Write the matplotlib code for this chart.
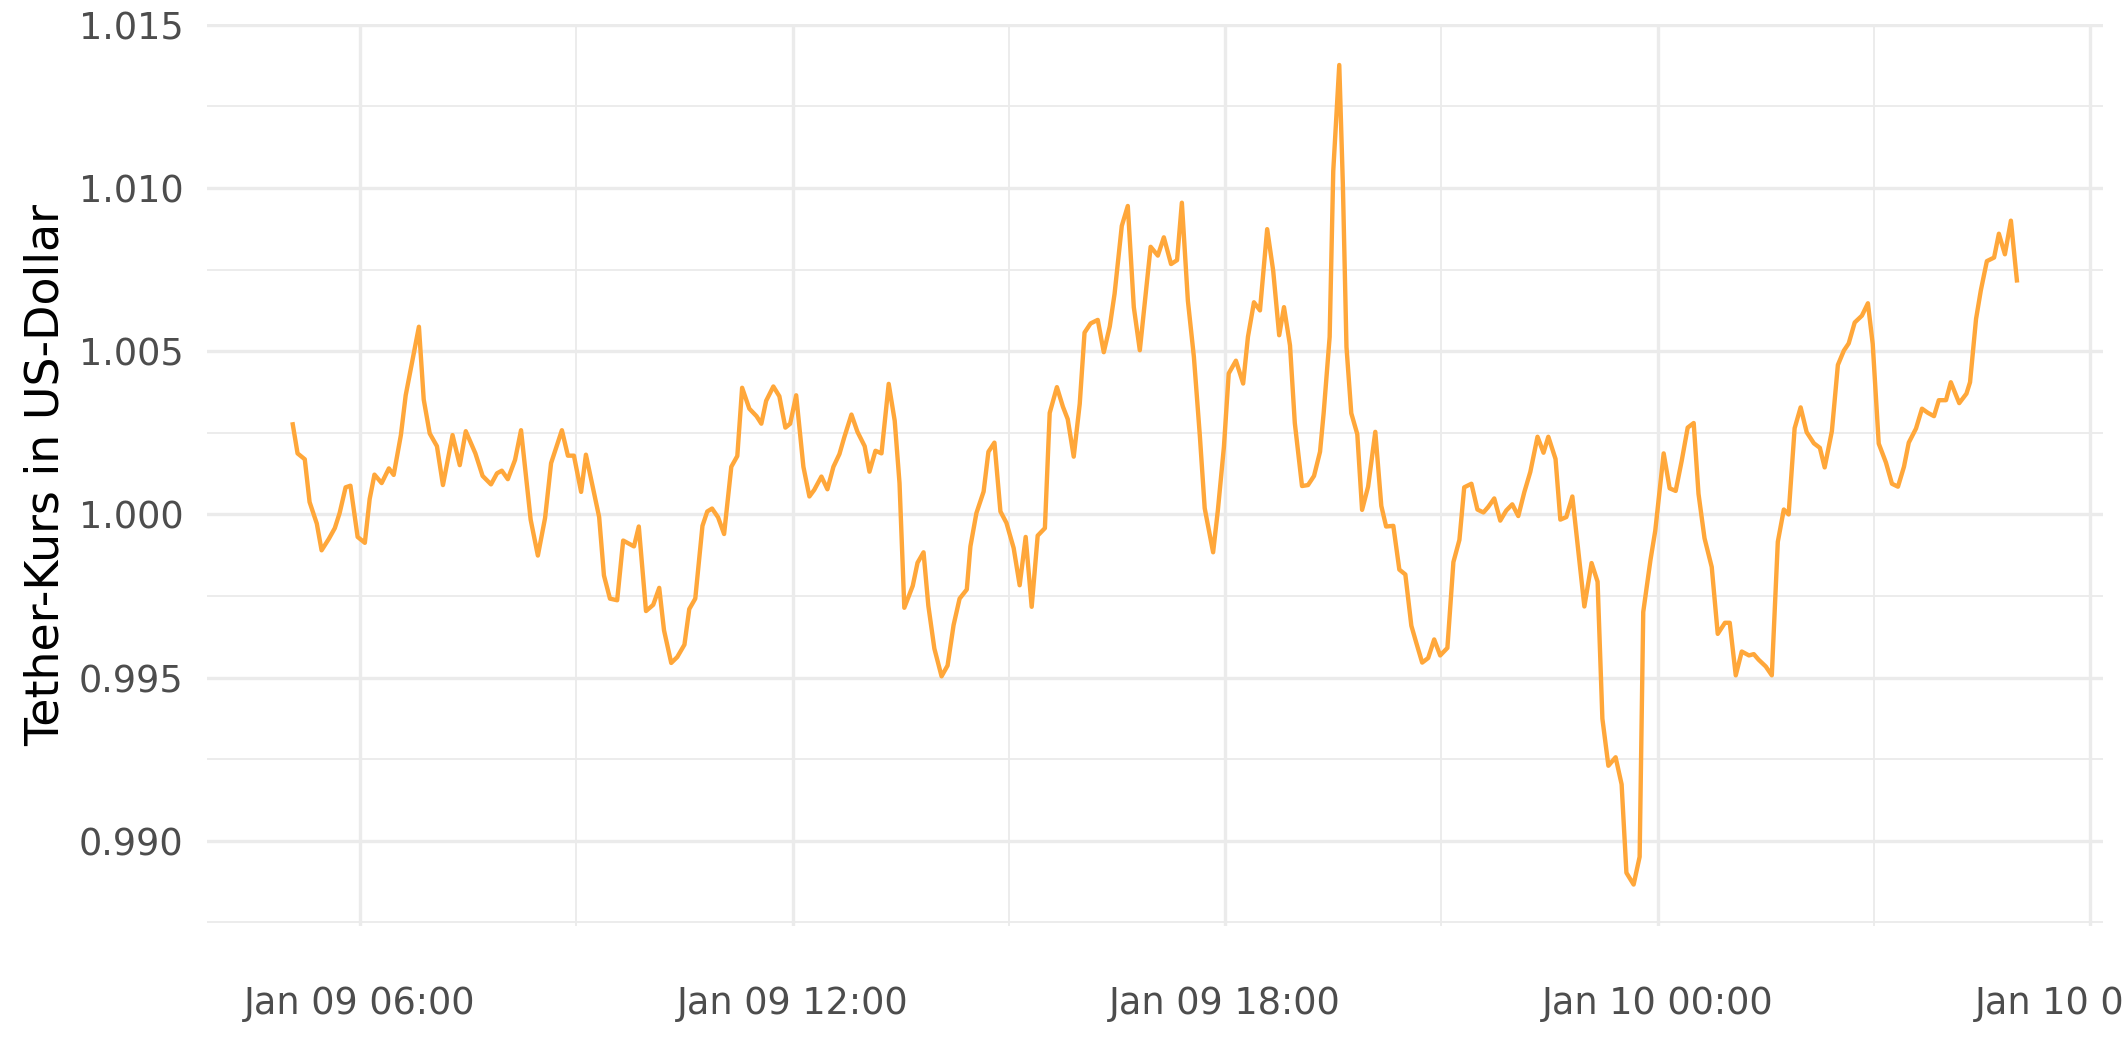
import matplotlib
matplotlib.use('Agg')
import matplotlib.pyplot as plt
import matplotlib.dates as mdates
import numpy as np
import pandas as pd

# minutes after Jan 09 06:00
minutes = [
    -56, -52, -46, -42, -36, -32, -26, -21, -17, -12, -8, -2, 4, 8, 12, 18, 24, 28, 34, 38,
    49, 53, 58, 64, 69, 77, 83, 88, 96, 102, 109, 114, 118, 123, 129, 134, 142, 148, 154, 159, 168,
    173, 178, 184, 188, 199, 203, 208, 214, 219, 228, 232, 238, 244, 249, 253, 259, 264, 270, 274, 279,
    285, 289, 293, 298, 303, 309, 314, 318, 324, 330, 334, 338, 344, 349, 354, 358, 363, 369, 374, 378,
    384, 389, 394, 399, 403, 409, 414, 420, 424, 429, 434, 440, 445, 449, 453, 460, 464, 469, 473, 478,
    484, 489, 494, 499, 505, 508, 513, 519, 523, 528, 533, 538, 544, 549, 554, 559, 564, 570, 574, 580,
    585, 589, 594, 599, 603, 608, 614,
    619, 624, 628, 634, 639, 644, 649, 653, 658, 664, 669, 675, 680, 684, 689, 694, 699, 703, 710, 714,
    719, 723, 729, 735, 739, 744, 749, 755, 760, 765, 769, 774, 778, 784, 789, 794, 799, 802, 807, 810,
    815, 818, 821, 825, 830, 834, 839, 845, 850, 854, 860, 865, 870, 875, 879,
    884, 889, 894, 899, 905, 910, 915, 919, 925, 930, 935, 939, 944, 949, 954, 959, 964, 969, 974, 980,
    985, 989, 995, 999, 1004, 1009, 1014, 1019, 1025, 1030, 1034, 1039, 1045, 1050, 1054, 1060, 1065,
    1068, 1074, 1078, 1085, 1090, 1095, 1100, 1105, 1110, 1114, 1119, 1125, 1130, 1136, 1140, 1145,
    1150, 1156, 1160, 1164, 1170, 1175, 1180, 1185, 1189, 1194, 1199, 1204, 1210, 1215, 1219, 1225, 1230,
    1235, 1239, 1244, 1250, 1255, 1259, 1264, 1270, 1275, 1280, 1285, 1289, 1295, 1300, 1305, 1310,
    1314, 1320, 1324, 1331, 1337, 1340, 1345, 1349, 1354, 1360, 1364, 1369, 1374, 1379,
]

kurs = [
    1.00276, 1.00187, 1.00169, 1.00038, 0.99972, 0.99890, 0.99925, 0.99958, 1.00004, 1.00083,
    1.00088, 0.99931, 0.99913, 1.00047, 1.00122, 1.00096, 1.00141, 1.00121, 1.00243, 1.00365,
    1.00575, 1.00352, 1.00248, 1.00209, 1.00090, 1.00243, 1.00151, 1.00255, 1.00187, 1.00118,
    1.00092, 1.00126, 1.00134, 1.00108, 1.00167, 1.00258, 0.99984, 0.99874, 0.99989, 1.00157, 1.00258,
    1.00180, 1.00180, 1.00069, 1.00183, 0.99992, 0.99813, 0.99742, 0.99737, 0.99920, 0.99902,
    0.99963, 0.99704, 0.99723, 0.99775, 0.99645, 0.99545, 0.99563, 0.99601, 0.99710, 0.99742,
    0.99965, 1.00009, 1.00018, 0.99991, 0.99940, 1.00146, 1.00179, 1.00388, 1.00324, 1.00301,
    1.00278, 1.00348, 1.00392, 1.00362, 1.00266, 1.00278, 1.00365, 1.00146, 1.00055, 1.00075,
    1.00116, 1.00077, 1.00146, 1.00185, 1.00236, 1.00306, 1.00253, 1.00209, 1.00131, 1.00195,
    1.00187, 1.00400, 1.00287, 1.00096, 0.99714, 0.99781, 0.99852, 0.99884, 0.99720, 0.99589,
    0.99504, 0.99537, 0.99661, 0.99742, 0.99770, 0.99902, 1.00004, 1.00070, 1.00192, 1.00220,
    1.00009, 0.99974, 0.99897, 0.99783, 0.99931, 0.99717, 0.99935, 0.99958, 1.00311, 1.00390,
    1.00330, 1.00292, 1.00177, 1.00339, 1.00557, 1.00585, 1.00596,
    1.00497, 1.00576, 1.00676, 1.00884, 1.00945, 1.00635, 1.00503, 1.00645, 1.00820, 1.00793,
    1.00849, 1.00767, 1.00779, 1.00955, 1.00655, 1.00483, 1.00239, 1.00019, 0.99884, 1.00014,
    1.00207, 1.00432, 1.00471, 1.00401, 1.00544, 1.00650, 1.00625, 1.00874, 1.00747, 1.00549,
    1.00635, 1.00518, 1.00280, 1.00087, 1.00090, 1.00118, 1.00192, 1.00310, 1.00544, 1.01052,
    1.01377, 1.01011, 1.00513, 1.00310, 1.00246, 1.00014, 1.00085, 1.00253, 1.00026, 0.99963,
    0.99965, 0.99831, 0.99816, 0.99659, 0.99608,
    0.99546, 0.99560, 0.99617, 0.99568, 0.99591, 0.99854, 0.99922, 1.00083, 1.00094, 1.00015,
    1.00006, 1.00023, 1.00049, 0.99981, 1.00012, 1.00031, 0.99995, 1.00068, 1.00130, 1.00238,
    1.00189, 1.00238, 1.00170, 0.99984, 0.99992, 1.00055, 0.99888, 0.99718, 0.99851, 0.99794,
    0.99374, 0.99230, 0.99256, 0.99173, 0.98902, 0.98866, 0.98951,
    0.99701, 0.99860, 0.99950, 1.00187, 1.00080, 1.00072, 1.00164, 1.00266, 1.00280, 1.00063,
    0.99927, 0.99839, 0.99634, 0.99668, 0.99668, 0.99507,
    0.99580, 0.99568, 0.99572, 0.99555, 0.99534, 0.99507, 0.99916, 1.00015, 1.00000, 1.00264,
    1.00328, 1.00252, 1.00218, 1.00204, 1.00144, 1.00255, 1.00458,
    1.00502, 1.00524, 1.00588, 1.00609, 1.00647, 1.00522, 1.00217, 1.00159, 1.00094, 1.00085,
    1.00146, 1.00220, 1.00263, 1.00324, 1.00311, 1.00301,
    1.00350, 1.00350, 1.00405, 1.00341, 1.00370, 1.00405, 1.00599, 1.00687, 1.00776, 1.00787,
    1.00860, 1.00797, 1.00900, 1.00717,
]

y_ticks = [0.990, 0.995, 1.000, 1.005, 1.010, 1.015]
y_minor = [0.9875, 0.9925, 0.9975, 1.0025, 1.0075, 1.0125]

assert len(minutes) == len(kurs), (len(minutes), len(kurs))

times = pd.Timestamp('2018-01-09 06:00') + pd.to_timedelta(minutes, unit='min')
grid_col = '#EBEBEB'

fig = plt.figure(figsize=(2125 / 300, 1062 / 300), dpi=300)
ax = fig.add_axes([0.0972, 0.1285, 0.8925, 0.8489])

ax.plot(times, kurs, color='#FFA73A', lw=1.05)

# ggplot-like 5 % expansion
t0, t1 = times.min(), times.max()
tpad = (t1 - t0) * 0.05
ax.set_xlim(t0 - tpad, t1 + tpad)
y0, y1 = min(kurs), max(kurs)
ypad = (y1 - y0) * 0.05
ax.set_ylim(y0 - ypad, y1 + ypad)

ax.xaxis.set_major_locator(mdates.HourLocator(byhour=[0, 6, 12, 18]))
ax.xaxis.set_minor_locator(mdates.HourLocator(byhour=[3, 9, 15, 21]))
ax.xaxis.set_major_formatter(mdates.DateFormatter('%b %d %H:%M'))
ax.set_yticks(y_ticks)
ax.set_yticks(y_minor, minor=True)
ax.yaxis.set_major_formatter(matplotlib.ticker.FormatStrFormatter('%.3f'))

ax.grid(which='major', color=grid_col, lw=0.8)
ax.grid(which='minor', color=grid_col, lw=0.45)
ax.set_axisbelow(True)
for s in ax.spines.values():
    s.set_visible(False)

ax.tick_params(which='both', length=0, labelsize=8.8, labelcolor='#4D4D4D')
ax.tick_params(axis='x', pad=14.2)
ax.tick_params(axis='y', pad=5.5)

ax.set_ylabel('Tether-Kurs in US-Dollar', fontsize=11, color='black', labelpad=2.5)

fig.savefig('out.png', dpi=300)
